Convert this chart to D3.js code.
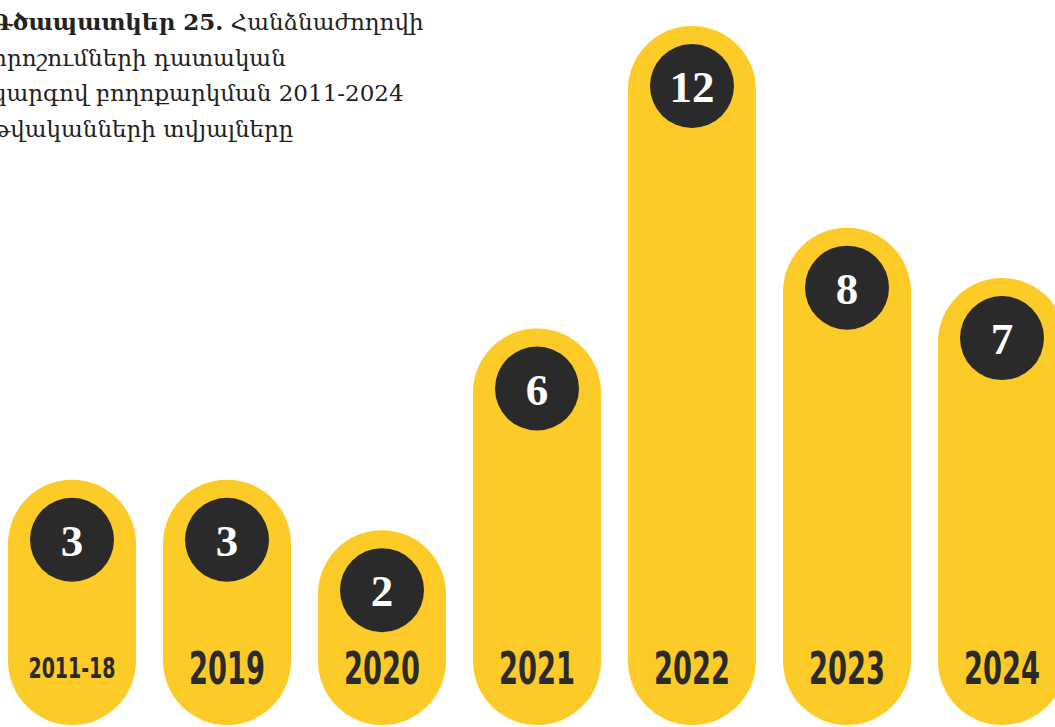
<!DOCTYPE html>
<html><head><meta charset="utf-8">
<script src="https://cdn.jsdelivr.net/npm/d3@7"></script>
<style>body{margin:0;background:#fff;overflow:hidden}</style>
</head><body>
<svg id="c" width="1055" height="727"></svg>
<script>
const categories = ["2011-18","2019","2020","2021","2022","2023","2024"];
const values = [3,3,2,6,12,8,7];
const titleBold = "Գծապատկեր 25.";
const titleLines = [" Հանձնաժողովի","որոշումների դատական","կարգով բողոքարկման 2011-2024","թվականների տվյալները"];

const W = 1055, H = 727;
const svg = d3.select("#c");
const yellow = "#FCCB27", dark = "#2A2A2A";
const barW = 128, bottom = 725, r = 42;

const x = d3.scalePoint().domain(categories).range([72, 1002]);
const y = d3.scaleLinear().domain([0, 12]).range([631, 26]);

const g = svg.append("g");
const bars = g.selectAll("g.bar").data(categories.map((c,i)=>({c, v: values[i]}))).join("g").attr("class","bar");

bars.append("rect")
  .attr("x", d => x(d.c) - barW/2)
  .attr("y", d => y(d.v))
  .attr("width", barW)
  .attr("height", d => bottom - y(d.v))
  .attr("rx", barW/2).attr("ry", barW/2)
  .attr("fill", yellow);

bars.append("circle")
  .attr("cx", d => x(d.c))
  .attr("cy", d => y(d.v) + 60)
  .attr("r", r)
  .attr("fill", dark);

bars.append("text")
  .attr("x", d => x(d.c))
  .attr("y", d => y(d.v) + 60 + 16)
  .attr("text-anchor", "middle")
  .attr("font-family", "Liberation Serif, DejaVu Serif, serif")
  .attr("font-weight", "bold")
  .attr("font-size", 45)
  .attr("fill", "#fff")
  .text(d => d.v);

bars.append("text")
  .attr("x", d => x(d.c))
  .attr("y", d => d.c.length > 4 ? 678 : 684)
  .attr("text-anchor", "middle")
  .attr("font-family", "DejaVu Sans Condensed, sans-serif")
  .attr("font-weight", "bold")
  .attr("font-size", d => d.c.length > 4 ? 29 : 44)
  .attr("textLength", d => d.c.length > 4 ? 87 : 76)
  .attr("lengthAdjust", "spacingAndGlyphs")
  .attr("fill", dark)
  .text(d => d.c);

// title
const tg = svg.append("g").attr("font-family", "DejaVu Serif, serif").attr("font-size", 23).attr("fill", "#222");
const t1 = tg.append("text").attr("x", -8).attr("y", 30);
t1.append("tspan").attr("font-weight", "bold").text(titleBold);
t1.append("tspan").text(titleLines[0]);
titleLines.slice(1).forEach((l, i) => {
  tg.append("text").attr("x", -8).attr("y", 30 + 35.5 * (i + 1)).text(l);
});
</script>
</body></html>
